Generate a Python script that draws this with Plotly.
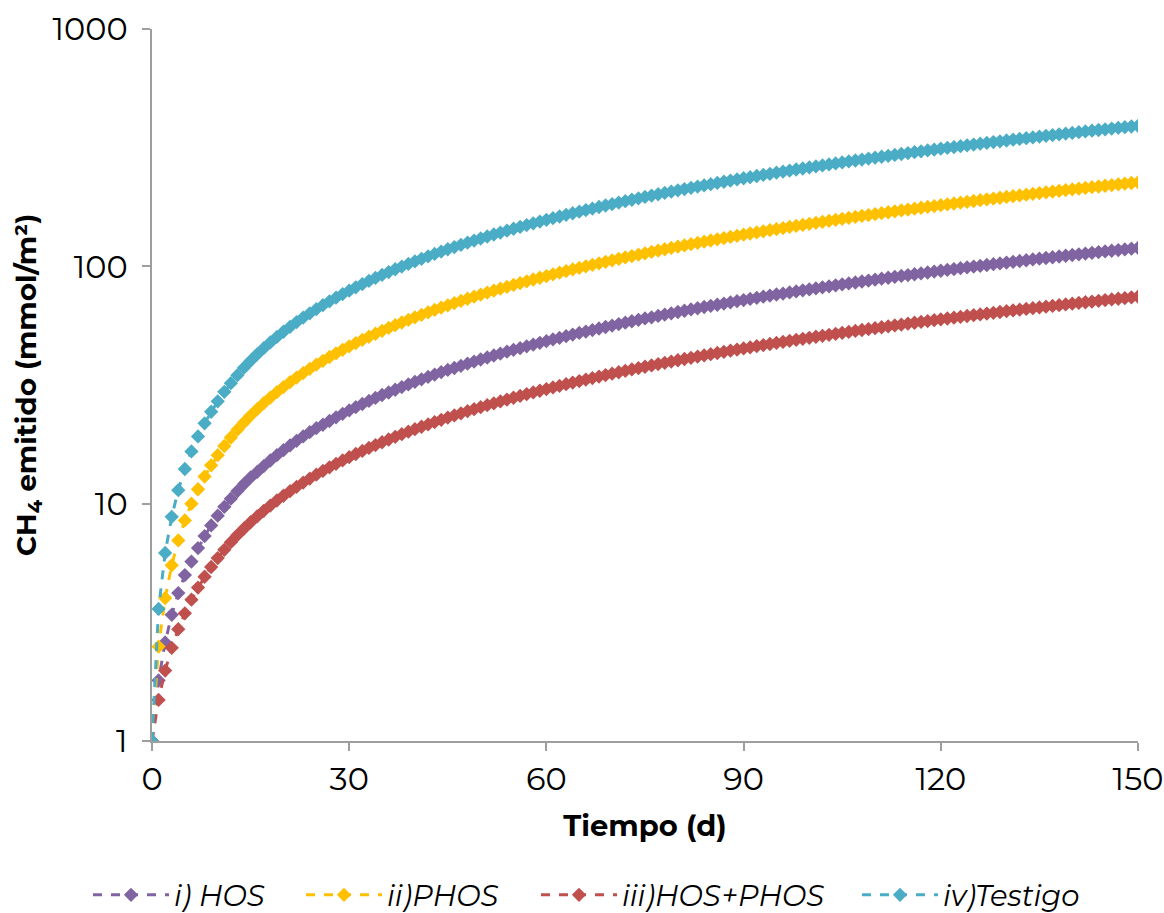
import plotly.graph_objects as go

days = list(range(0, 151))

hos = [1.0, 1.8, 2.6, 3.4, 4.2, 5.0, 5.7, 6.5, 7.3, 8.1,
       8.9, 9.7, 10.5, 11.3, 12.1, 12.9, 13.6, 14.4, 15.2, 16.0,
       16.8, 17.6, 18.4, 19.2, 20.0, 20.8, 21.5, 22.3, 23.1, 23.9,
       24.7, 25.5, 26.3, 27.1, 27.9, 28.7, 29.4, 30.2, 31.0, 31.8,
       32.6, 33.4, 34.2, 35.0, 35.8, 36.6, 37.3, 38.1, 38.9, 39.7,
       40.5, 41.3, 42.1, 42.9, 43.7, 44.5, 45.2, 46.0, 46.8, 47.6,
       48.4, 49.2, 50.0, 50.8, 51.6, 52.4, 53.1, 53.9, 54.7, 55.5,
       56.3, 57.1, 57.9, 58.7, 59.5, 60.3, 61.0, 61.8, 62.6, 63.4,
       64.2, 65.0, 65.8, 66.6, 67.4, 68.2, 68.9, 69.7, 70.5, 71.3,
       72.1, 72.9, 73.7, 74.5, 75.3, 76.1, 76.8, 77.6, 78.4, 79.2,
       80.0, 80.8, 81.6, 82.4, 83.2, 84.0, 84.7, 85.5, 86.3, 87.1,
       87.9, 88.7, 89.5, 90.3, 91.1, 91.9, 92.6, 93.4, 94.2, 95.0,
       95.8, 96.6, 97.4, 98.2, 99.0, 99.8, 100.5, 101.3, 102.1, 102.9,
       103.7, 104.5, 105.3, 106.1, 106.9, 107.7, 108.4, 109.2, 110.0, 110.8,
       111.6, 112.4, 113.2, 114.0, 114.8, 115.6, 116.3, 117.1, 117.9, 118.7,
       119.5]

phos = [1, 2.5, 4, 5.5, 7, 8.5, 10, 11.5, 13, 14.5,
        16, 17.5, 19, 20.5, 22, 23.5, 25, 26.5, 28, 29.5,
        31, 32.5, 34, 35.5, 37, 38.5, 40, 41.5, 43, 44.5,
        46, 47.5, 49, 50.5, 52, 53.5, 55, 56.5, 58, 59.5,
        61, 62.5, 64, 65.5, 67, 68.5, 70, 71.5, 73, 74.5,
        76, 77.5, 79, 80.5, 82, 83.5, 85, 86.5, 88, 89.5,
        91, 92.5, 94, 95.5, 97, 98.5, 100, 101.5, 103, 104.5,
        106, 107.5, 109, 110.5, 112, 113.5, 115, 116.5, 118, 119.5,
        121, 122.5, 124, 125.5, 127, 128.5, 130, 131.5, 133, 134.5,
        136, 137.5, 139, 140.5, 142, 143.5, 145, 146.5, 148, 149.5,
        151, 152.5, 154, 155.5, 157, 158.5, 160, 161.5, 163, 164.5,
        166, 167.5, 169, 170.5, 172, 173.5, 175, 176.5, 178, 179.5,
        181, 182.5, 184, 185.5, 187, 188.5, 190, 191.5, 193, 194.5,
        196, 197.5, 199, 200.5, 202, 203.5, 205, 206.5, 208, 209.5,
        211, 212.5, 214, 215.5, 217, 218.5, 220, 221.5, 223, 224.5,
        226]

hos_phos = [1, 1.49, 1.98, 2.47, 2.96, 3.45, 3.94, 4.43, 4.92, 5.41,
            5.9, 6.39, 6.88, 7.37, 7.86, 8.35, 8.84, 9.33, 9.82, 10.31,
            10.8, 11.29, 11.78, 12.27, 12.76, 13.25, 13.74, 14.23, 14.72, 15.21,
            15.7, 16.19, 16.68, 17.17, 17.66, 18.15, 18.64, 19.13, 19.62, 20.11,
            20.6, 21.09, 21.58, 22.07, 22.56, 23.05, 23.54, 24.03, 24.52, 25.01,
            25.5, 25.99, 26.48, 26.97, 27.46, 27.95, 28.44, 28.93, 29.42, 29.91,
            30.4, 30.89, 31.38, 31.87, 32.36, 32.85, 33.34, 33.83, 34.32, 34.81,
            35.3, 35.79, 36.28, 36.77, 37.26, 37.75, 38.24, 38.73, 39.22, 39.71,
            40.2, 40.69, 41.18, 41.67, 42.16, 42.65, 43.14, 43.63, 44.12, 44.61,
            45.1, 45.59, 46.08, 46.57, 47.06, 47.55, 48.04, 48.53, 49.02, 49.51,
            50.0, 50.49, 50.98, 51.47, 51.96, 52.45, 52.94, 53.43, 53.92, 54.41,
            54.9, 55.39, 55.88, 56.37, 56.86, 57.35, 57.84, 58.33, 58.82, 59.31,
            59.8, 60.29, 60.78, 61.27, 61.76, 62.25, 62.74, 63.23, 63.72, 64.21,
            64.7, 65.19, 65.68, 66.17, 66.66, 67.15, 67.64, 68.13, 68.62, 69.11,
            69.6, 70.09, 70.58, 71.07, 71.56, 72.05, 72.54, 73.03, 73.52, 74.01,
            74.5]

testigo = [1, 3.6, 6.2, 8.8, 11.4, 14, 16.6, 19.2, 21.8, 24.4,
           27, 29.6, 32.2, 34.8, 37.4, 40, 42.6, 45.2, 47.8, 50.4,
           53, 55.6, 58.2, 60.8, 63.4, 66, 68.6, 71.2, 73.8, 76.4,
           79, 81.6, 84.2, 86.8, 89.4, 92, 94.6, 97.2, 99.8, 102.4,
           105, 107.6, 110.2, 112.8, 115.4, 118, 120.6, 123.2, 125.8, 128.4,
           131, 133.6, 136.2, 138.8, 141.4, 144, 146.6, 149.2, 151.8, 154.4,
           157, 159.6, 162.2, 164.8, 167.4, 170, 172.6, 175.2, 177.8, 180.4,
           183, 185.6, 188.2, 190.8, 193.4, 196, 198.6, 201.2, 203.8, 206.4,
           209, 211.6, 214.2, 216.8, 219.4, 222, 224.6, 227.2, 229.8, 232.4,
           235, 237.6, 240.2, 242.8, 245.4, 248, 250.6, 253.2, 255.8, 258.4,
           261, 263.6, 266.2, 268.8, 271.4, 274, 276.6, 279.2, 281.8, 284.4,
           287, 289.6, 292.2, 294.8, 297.4, 300, 302.6, 305.2, 307.8, 310.4,
           313, 315.6, 318.2, 320.8, 323.4, 326, 328.6, 331.2, 333.8, 336.4,
           339, 341.6, 344.2, 346.8, 349.4, 352, 354.6, 357.2, 359.8, 362.4,
           365, 367.6, 370.2, 372.8, 375.4, 378, 380.6, 383.2, 385.8, 388.4,
           391]

series_names = ["i) HOS", "ii)PHOS", "iii)HOS+PHOS", "iv)Testigo"]
series_values = [hos, phos, hos_phos, testigo]
colors = ["#8064A2", "#FFC000", "#C0504D", "#4BACC6"]
legend_ids = ["legend", "legend2", "legend3", "legend4"]
legend_x_px = [88, 301, 536, 857]

x_ticks = [0, 30, 60, 90, 120, 150]
y_ticks = [1, 10, 100, 1000]
y_ticktext = ["1", "10", "100", "1000"]

FONT = "Montserrat, Lato, 'Open Sans', sans-serif"
W, H = 1164, 913

fig = go.Figure()
for name, vals, col, lid in zip(series_names, series_values, colors, legend_ids):
    fig.add_trace(go.Scatter(
        x=days, y=vals, name=name, mode="lines+markers", legend=lid,
        line=dict(color=col, width=3, dash="dash"),
        marker=dict(symbol="diamond", size=11, color=col),
    ))

legend_common = dict(
    orientation="h", xref="container", yref="container",
    xanchor="left", y=18 / H, yanchor="middle",
    font=dict(size=29, family=FONT, style="italic", color="black"),
    itemwidth=76, bgcolor="rgba(0,0,0,0)",
)
legends = {}
for lid, px in zip(legend_ids, legend_x_px):
    legends[lid] = dict(legend_common, x=px / W)

axis_color = "#9E9E9E"
fig.update_layout(
    width=W, height=H,
    paper_bgcolor="white", plot_bgcolor="white",
    margin=dict(l=152, r=26, t=29, b=172),
    font=dict(family=FONT, size=32, color="black"),
    showlegend=True,
    **legends,
    xaxis=dict(
        range=[0, 150], tickvals=x_ticks, showgrid=False, zeroline=False,
        automargin=False,
        showline=True, linecolor=axis_color, linewidth=2,
        ticks="outside", ticklen=8, tickwidth=2, tickcolor=axis_color,
        tickfont=dict(size=32, family=FONT, color="black"), ticklabelstandoff=1,
        title=dict(text="<b>Tiempo (d)</b>", font=dict(size=29, family=FONT, color="black"), standoff=18),
    ),
    yaxis=dict(
        type="log", range=[0, 3], tickvals=y_ticks, ticktext=y_ticktext,
        showgrid=False, zeroline=False, automargin=False,
        showline=True, linecolor=axis_color, linewidth=2,
        ticks="outside", ticklen=8, tickwidth=2, tickcolor=axis_color,
        tickfont=dict(size=32, family=FONT, color="black"), ticklabelstandoff=8,
        title=dict(text="<b>CH<sub>4</sub> emitido (mmol/m²)</b>",
                   font=dict(size=28, family=FONT, color="black"), standoff=8),
    ),
)

fig.write_html(
    "out.html",
    config={"displayModeBar": False},
    post_script="document.body.style.margin='0';document.body.style.overflow='hidden';",
)
